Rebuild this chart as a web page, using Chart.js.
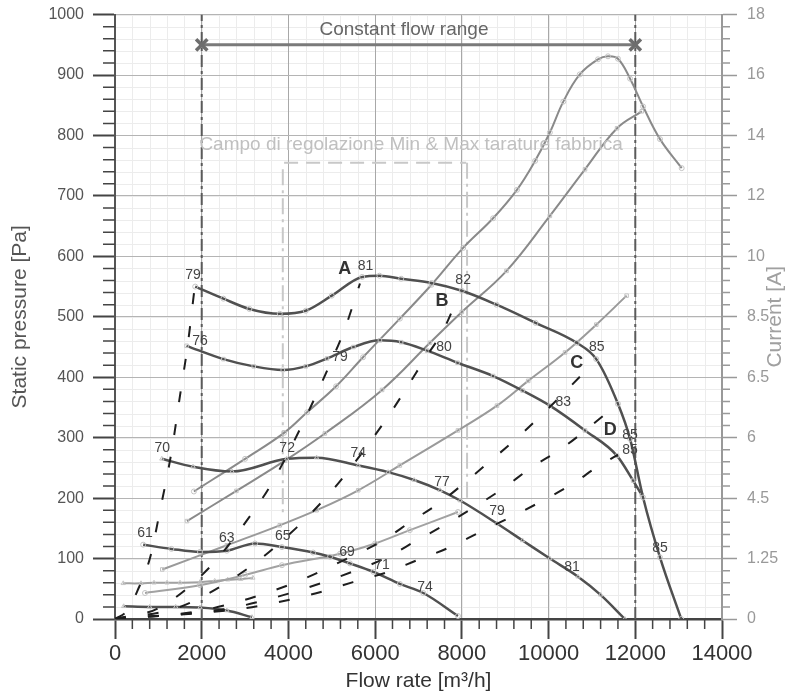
<!DOCTYPE html>
<html>
<head>
<meta charset="utf-8">
<script src="https://cdn.jsdelivr.net/npm/chart.js@4.4.1/dist/chart.umd.min.js"></script>
<style>
  html, body { margin: 0; padding: 0; background: #fff; overflow: hidden; }
  #wrap { width: 788px; height: 696px; overflow: hidden; }
  #fan { display: block; margin-top: -5px; }
</style>
</head>
<body>
<div id="wrap"><canvas id="fan" width="788" height="701"></canvas></div>
<script>
// ---- axis ticks ----
const flowStep = 2000, flowMinor = 400;
const paStep = 100, paMinor = 20;
const currentTicks = ['0', '1.25', '4.5', '6', '6.5', '8.5', '10', '12', '14', '16', '18'];

// ---- static pressure curves (flow m3/h / Pa) ----
const curveAFlow = [1850, 2500, 3100, 3800, 4400, 5000, 5700, 6100, 6600, 7300, 8000, 8800, 9700, 10650, 11100, 11600, 11880, 12180, 12570, 13060];
const curveAPa   = [550, 530, 513, 505, 510, 535, 566, 568, 563, 556, 543, 520, 490, 457, 430, 356, 298, 201, 102, 0];
const curveBFlow = [1650, 2500, 3200, 3870, 4400, 4890, 5500, 6110, 6600, 7200, 7900, 8720, 9400, 10030, 10840, 11580, 11950, 12150];
const curveBPa   = [452, 430, 418, 412, 418, 431, 450, 461, 458, 444, 424, 402, 378, 353, 312, 270, 229, 205];
const curveCFlow = [1080, 1800, 2700, 3960, 4650, 5610, 6300, 6900, 7500, 7960, 8810, 9400, 10030, 10680, 11200, 11760];
const curveCPa   = [265, 252, 244, 265, 267, 254, 243, 230, 213, 196, 158, 130, 100, 70, 40, 0];
const curveDFlow = [650, 1300, 1960, 2580, 3230, 3850, 4570, 4960, 5420, 5960, 6570, 7110, 7910];
const curveDPa   = [123, 116, 111, 113, 125, 119, 110, 103, 92, 78, 58, 43, 5];
const curveEFlow = [200, 800, 1400, 1960, 2580, 3160];
const curveEPa   = [21, 20, 20, 19, 14, 3];

// ---- current curves (read against the right axis grid) ----
const amp1Flow = [1820, 3000, 3900, 4430, 5100, 5720, 6570, 7300, 8030, 8720, 9270, 9690, 10030, 10340, 10720, 11140, 11370, 11600, 11880, 12180, 12570, 13070];
const amp1Val  = [211, 265, 308, 342, 385, 433, 497, 553, 614, 663, 710, 758, 805, 856, 901, 926, 931, 927, 894, 848, 794, 746];
const amp2Flow = [1660, 2800, 3920, 4840, 6160, 7265, 8000, 9030, 10030, 10840, 11580, 12150];
const amp2Val  = [162, 212, 262, 307, 379, 457, 508, 576, 667, 744, 812, 840];
const amp3Flow = [1090, 2580, 3800, 4650, 5610, 6570, 7910, 8810, 9530, 10380, 11100, 11800];
const amp3Val  = [82, 122, 155, 180, 213, 254, 312, 353, 394, 441, 487, 535];
const amp4Flow = [692, 1960, 3000, 3850, 5190, 6000, 6800, 7910];
const amp4Val  = [43, 56, 73, 89, 108, 125, 147, 177];
const amp5Flow = [190, 600, 900, 1200, 1500, 1960, 2300, 2600, 2900, 3180];
const amp5Val  = [59, 59, 60, 60, 60, 61, 63, 65, 66, 68];

// ---- system curves (dashed) ----
const sysSteepFlow = [0, 300, 507, 807, 1040, 1300, 1500, 1680, 1840];
const sysSteepPa   = [0, 15, 45, 101, 180, 275, 370, 455, 550];
const sysAFlow = [0, 1000, 2190, 3160, 3620, 4340, 4960, 5300, 5650];
const sysAPa   = [0, 18, 86, 175, 225, 325, 422, 480, 555];
const sysBFlow = [0, 1500, 3070, 4200, 4800, 5260, 6230, 6690, 7150, 7565, 7900];
const sysBPa   = [0, 20, 84, 152, 196, 234, 328, 378, 431, 477, 530];
const sysCFlow = [0, 2000, 4000, 5350, 6180, 6800, 7500, 8500, 9390, 10450, 11050];
const sysCPa   = [0, 14, 56, 100, 130, 160, 193, 252, 307, 381, 425];
const sysDFlow = [0, 2500, 4000, 5580, 6270, 6960, 7660, 8950, 9570, 10340, 11500];
const sysDPa   = [0, 16, 42, 81, 102, 130, 158, 216, 249, 284, 350];
const sysEFlow = [0, 3000, 4500, 5490, 6300, 6960, 7730, 8420, 9110, 9870, 10560, 11110, 11600];
const sysEPa   = [0, 18, 40, 61, 78, 97, 119, 144, 168, 196, 224, 251, 272];

// ---- reference lines ----
const constFlow = [2000, 12000];
const constPa = 950;
const campoLeft = [3870, 744, 172];    // flow, top, bottom
const campoRight = [8120, 755, 200];
const campoTop = [3900, 8100, 755];    // from, to, level

// ---- texts (flow, Pa) ----
const noiseLabels = [
  ['79', 1800, 569], ['81', 5780, 584], ['82', 8030, 561], ['85', 11110, 449], ['83', 10340, 358],
  ['85', 11880, 304], ['85', 11880, 280], ['85', 12570, 117],
  ['76', 1960, 459], ['79', 5190, 434], ['80', 7590, 449],
  ['70', 1090, 282], ['72', 3970, 282], ['74', 5610, 274], ['77', 7540, 226], ['79', 8810, 178], ['81', 10540, 86],
  ['61', 692, 142], ['63', 2580, 134], ['65', 3870, 137], ['69', 5350, 111], ['71', 6160, 89], ['74', 7150, 53]
];
const curveLetters = [['A', 5300, 579], ['B', 7540, 526], ['C', 10650, 424], ['D', 11420, 312]];
const constText = ['Constant flow range', 6665, 975];
const campoText = ['Campo di regolazione Min & Max tarature fabbrica', 6830, 785];

const FONT = '"Liberation Sans", Arial, sans-serif';
const pts = (xs, ys) => xs.map((x, i) => ({ x: x, y: ys[i] }));

function pressureLine(xs, ys, style) {
  return {
    data: pts(xs, ys), showLine: true, borderColor: '#505050', borderWidth: 2.5,
    cubicInterpolationMode: 'monotone', pointRadius: 2.5, pointStyle: style,
    pointBorderColor: '#c4c4c4', pointBackgroundColor: 'rgba(0,0,0,0)', pointBorderWidth: 1, order: 2
  };
}
function currentLine(xs, ys, color, style) {
  return {
    data: pts(xs, ys), yAxisID: 'y2', showLine: true, borderColor: color, borderWidth: 2,
    tension: 0.4, pointRadius: 2.5, pointStyle: style,
    pointBorderColor: '#c4c4c4', pointBackgroundColor: 'rgba(0,0,0,0)', pointBorderWidth: 1, order: 3
  };
}
function systemLine(xs, ys) {
  return {
    data: pts(xs, ys), showLine: true, borderColor: '#1e1e1e', borderWidth: 2,
    borderDash: [11, 22], cubicInterpolationMode: 'monotone', pointRadius: 0, order: 1
  };
}
function refLine(data, color, width, dash) {
  return { data: data, showLine: true, borderColor: color, borderWidth: width, borderDash: dash, pointRadius: 0, order: 4 };
}

const datasets = [
  pressureLine(curveAFlow, curveAPa, 'circle'),
  pressureLine(curveBFlow, curveBPa, 'rect'),
  pressureLine(curveCFlow, curveCPa, 'triangle'),
  pressureLine(curveDFlow, curveDPa, 'circle'),
  pressureLine(curveEFlow, curveEPa, 'triangle'),
  currentLine(amp1Flow, amp1Val, '#8a8a8a', 'circle'),
  currentLine(amp2Flow, amp2Val, '#8a8a8a', 'rect'),
  currentLine(amp3Flow, amp3Val, '#9a9a9a', 'rect'),
  currentLine(amp4Flow, amp4Val, '#a2a2a2', 'circle'),
  currentLine(amp5Flow, amp5Val, '#a2a2a2', 'triangle'),
  systemLine(sysSteepFlow, sysSteepPa),
  systemLine(sysAFlow, sysAPa),
  systemLine(sysBFlow, sysBPa),
  systemLine(sysCFlow, sysCPa),
  systemLine(sysDFlow, sysDPa),
  systemLine(sysEFlow, sysEPa),
  refLine([{ x: constFlow[0], y: 0 }, { x: constFlow[0], y: 1000 }], '#5a5a5a', 2, [12, 4, 3, 4]),
  refLine([{ x: constFlow[1], y: 0 }, { x: constFlow[1], y: 1000 }], '#5a5a5a', 2, [12, 4, 3, 4]),
  refLine([{ x: campoLeft[0], y: campoLeft[1] }, { x: campoLeft[0], y: campoLeft[2] }], '#c8c8c8', 2, [16, 5, 3, 5]),
  refLine([{ x: campoRight[0], y: campoRight[1] }, { x: campoRight[0], y: campoRight[2] }], '#c8c8c8', 2, [16, 5, 3, 5]),
  refLine([{ x: campoTop[0], y: campoTop[2] }, { x: campoTop[1], y: campoTop[2] }], '#c8c8c8', 2, [14, 8]),
  {
    data: constFlow.map(x => ({ x: x, y: constPa })), showLine: true, borderColor: '#7a7a7a', borderWidth: 3,
    pointStyle: 'crossRot', pointRadius: 8, pointBorderColor: '#6e6e6e', pointBorderWidth: 3.5, order: 0
  }
];

// minor grid + minor ticks + texts
const extras = {
  id: 'extras',
  beforeDraw(chart) {
    const { ctx, chartArea: a, scales: { x, y } } = chart;
    ctx.save();
    ctx.strokeStyle = '#ececec';
    ctx.lineWidth = 1;
    ctx.beginPath();
    for (let v = 0; v <= x.max; v += flowMinor) {
      const px = Math.round(x.getPixelForValue(v)) + 0.5;
      ctx.moveTo(px, a.top); ctx.lineTo(px, a.bottom);
    }
    for (let v = 0; v <= y.max; v += paMinor) {
      const py = Math.round(y.getPixelForValue(v)) + 0.5;
      ctx.moveTo(a.left, py); ctx.lineTo(a.right, py);
    }
    ctx.stroke();
    ctx.restore();
  },
  afterDraw(chart) {
    const { ctx, chartArea: a, scales: { x, y } } = chart;
    ctx.save();
    ctx.lineWidth = 1.5;
    ctx.strokeStyle = '#444';
    ctx.beginPath();
    for (let v = 0; v <= x.max; v += flowMinor) {
      if (v % flowStep === 0) continue;
      const px = x.getPixelForValue(v);
      ctx.moveTo(px, a.bottom); ctx.lineTo(px, a.bottom + 10);
    }
    for (let v = 0; v <= y.max; v += paMinor) {
      if (v % paStep === 0) continue;
      const py = y.getPixelForValue(v);
      ctx.moveTo(a.left - 12, py); ctx.lineTo(a.left, py);
    }
    ctx.stroke();
    ctx.strokeStyle = '#999';
    ctx.beginPath();
    for (let v = 0; v <= y.max; v += paMinor) {
      if (v % paStep === 0) continue;
      const py = y.getPixelForValue(v);
      ctx.moveTo(a.right, py); ctx.lineTo(a.right + 8, py);
    }
    ctx.stroke();

    ctx.textAlign = 'center';
    ctx.textBaseline = 'middle';
    ctx.fillStyle = '#444';
    ctx.font = '14px ' + FONT;
    noiseLabels.forEach(([t, fx, fy]) => ctx.fillText(t, x.getPixelForValue(fx), y.getPixelForValue(fy)));
    ctx.fillStyle = '#333';
    ctx.font = 'bold 18px ' + FONT;
    curveLetters.forEach(([t, fx, fy]) => ctx.fillText(t, x.getPixelForValue(fx), y.getPixelForValue(fy)));
    ctx.font = '19px ' + FONT;
    ctx.fillStyle = '#666';
    ctx.fillText(constText[0], x.getPixelForValue(constText[1]), y.getPixelForValue(constText[2]));
    ctx.fillStyle = '#c0c0c0';
    ctx.fillText(campoText[0], x.getPixelForValue(campoText[1]), y.getPixelForValue(campoText[2]));

    ctx.translate(chart.width - 13, (a.top + a.bottom) / 2);
    ctx.rotate(-Math.PI / 2);
    ctx.fillStyle = '#a0a0a0';
    ctx.font = '21px ' + FONT;
    ctx.fillText('Current [A]', 0, 0);
    ctx.restore();
  }
};

new Chart(document.getElementById('fan'), {
  type: 'scatter',
  data: { datasets: datasets },
  options: {
    responsive: false,
    animation: false,
    layout: { padding: { top: 8, left: 0, right: 0, bottom: 0 } },
    plugins: { legend: { display: false }, tooltip: { enabled: false } },
    scales: {
      x: {
        type: 'linear', min: 0, max: 14000,
        afterFit: s => { s.height = 77; },
        ticks: { stepSize: flowStep, color: '#333', font: { family: FONT, size: 22 }, padding: 2, callback: v => String(v) },
        grid: { color: '#a8a8a8', lineWidth: 1, tickLength: 20, tickColor: '#444', tickWidth: 2 },
        border: { color: '#444', width: 2.5 },
        title: { display: true, text: 'Flow rate [m³/h]', color: '#333', font: { family: FONT, size: 21 }, padding: { top: 0, bottom: 2 } }
      },
      y: {
        type: 'linear', min: 0, max: 1000,
        afterFit: s => { s.width = 115; },
        ticks: { stepSize: paStep, color: '#555', font: { family: FONT, size: 16 }, padding: 9, callback: v => String(v) },
        grid: { color: '#b4b4b4', lineWidth: 1, tickLength: 22, tickColor: '#444', tickWidth: 2 },
        border: { color: '#555', width: 2 },
        title: { display: true, text: 'Static pressure [Pa]', color: '#555', font: { family: FONT, size: 21 }, padding: { top: 8, bottom: 0 } }
      },
      y2: {
        type: 'linear', position: 'right', min: 0, max: 1000,
        afterFit: s => { s.width = 66; },
        ticks: { stepSize: paStep, color: '#999', font: { family: FONT, size: 16 }, padding: 10,
          callback: (v) => currentTicks[Math.round(v / paStep)] },
        grid: { drawOnChartArea: false, tickLength: 15, tickColor: '#999', tickWidth: 1.5 },
        border: { color: '#999', width: 2 }
      }
    }
  },
  plugins: [extras]
});
</script>
</body>
</html>
